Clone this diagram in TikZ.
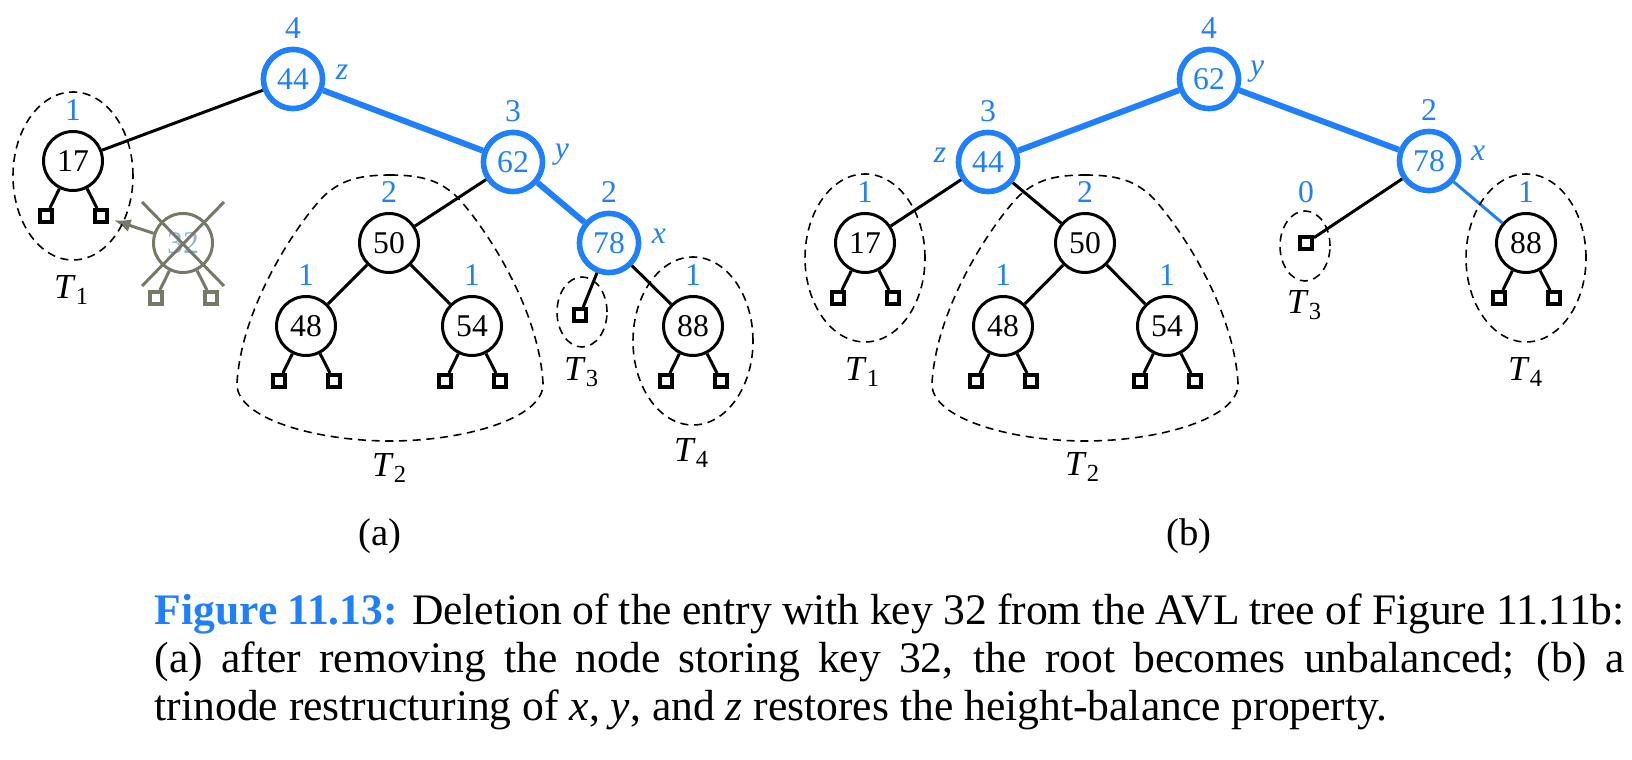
\documentclass[tikz,border=0pt]{standalone}
\usepackage{fontspec}
\setmainfont{Liberation Serif}
\usepackage{xcolor}
\usepackage{tikz}
\usetikzlibrary{arrows.meta, calc}

\definecolor{avlblue}{RGB}{30,128,255}
\definecolor{gonegray}{RGB}{120,120,104}
\definecolor{gonetext}{RGB}{150,178,228}

\begin{document}
\begin{tikzpicture}[
    key/.style={
        circle, draw,
        line width=0.85pt,
        minimum size=0.59cm,
        inner sep=0pt,
        font=\fontsize{9}{9}\selectfont
    },
    hot/.style={key, draw=avlblue, line width=1.6pt, text=avlblue},
    gone/.style={key, draw=gonegray, text=gonetext},
    ext/.style={
        rectangle, draw,
        line width=1.1pt,
        minimum size=0.12cm,
        inner sep=0pt
    },
    hnum/.style={font=\fontsize{9}{9}\selectfont, text=avlblue, inner sep=0pt},
    tag/.style={font=\fontsize{9}{9}\selectfont\itshape, text=avlblue, inner sep=0pt},
    sub/.style={font=\fontsize{10}{10}\selectfont, inner sep=0pt},
    edge/.style={line width=0.85pt},
    hotedge/.style={line width=1.7pt, draw=avlblue},
    grp/.style={line width=0.45pt, dash pattern=on 2.3pt off 1.6pt}
]
\useasboundingbox (0,0) rectangle (16.32,-7.60);

% ---------- (a) after removing 32 ----------
\node[hot] (a44) at (2.93,-0.79) {44};
\node[key] (a17) at (0.73,-1.61) {17};
\node[hot] (a62) at (5.13,-1.62) {62};
\node[key] (a50) at (3.89,-2.43) {50};
\node[hot] (a78) at (6.09,-2.43) {78};
\node[key] (a48) at (3.06,-3.26) {48};
\node[key] (a54) at (4.72,-3.26) {54};
\node[key] (a88) at (6.93,-3.26) {88};
\node[ext] (aT3) at (5.80,-3.15) {};

\draw[edge] (a44) -- (a17);
\draw[hotedge] (a44) -- (a62);
\draw[edge] (a62) -- (a50);
\draw[hotedge] (a62) -- (a78);
\draw[edge] (a50) -- (a48);
\draw[edge] (a50) -- (a54);
\draw[edge] (a78) -- (aT3);
\draw[edge] (a78) -- (a88);

% removed node
\node[gone] (a32) at (1.83,-2.43) {32};
\node[ext, draw=gonegray] (a32l) at (1.56,-2.98) {};
\node[ext, draw=gonegray] (a32r) at (2.11,-2.98) {};
\draw[edge, gonegray] (a32) -- (a32l);
\draw[edge, gonegray] (a32) -- (a32r);
\draw[edge, gonegray] ([shift={(-0.41,0.41)}]a32.center) -- ([shift={(0.41,-0.43)}]a32.center);
\draw[edge, gonegray] ([shift={(0.41,0.41)}]a32.center) -- ([shift={(-0.41,-0.43)}]a32.center);

% ---------- (b) after restructuring ----------
\node[hot] (b62) at (12.09,-0.79) {62};
\node[hot] (b44) at (9.88,-1.62) {44};
\node[hot] (b78) at (14.29,-1.61) {78};
\node[key] (b17) at (8.65,-2.43) {17};
\node[key] (b50) at (10.85,-2.43) {50};
\node[key] (b48) at (10.03,-3.26) {48};
\node[key] (b54) at (11.67,-3.26) {54};
\node[ext] (bT3) at (13.06,-2.43) {};
\node[key] (b88) at (15.26,-2.43) {88};

\draw[hotedge] (b62) -- (b44);
\draw[hotedge] (b62) -- (b78);
\draw[edge] (b44) -- (b17);
\draw[edge] (b44) -- (b50);
\draw[edge] (b50) -- (b48);
\draw[edge] (b50) -- (b54);
\draw[edge] (b78) -- (bT3);
\draw[edge, avlblue] (b78) -- (b88);

% external leaves
\foreach \p in {a17,a48,a54,a88,b17,b48,b54,b88} {
    \node[ext] (\p l) at ([shift={(-0.27,-0.55)}]\p.center) {};
    \node[ext] (\p r) at ([shift={(0.28,-0.55)}]\p.center) {};
    \draw[edge] (\p) -- (\p l);
    \draw[edge] (\p) -- (\p r);
}

\draw[edge, gonegray, -{Latex[length=0.17cm,width=0.13cm]}, shorten >=0.05cm] (a32) -- (a17r);

% heights
\foreach \n/\h in {a44/4,a17/1,a62/3,a50/2,a78/2,a48/1,a54/1,a88/1,
                   b62/4,b44/3,b78/2,b17/1,b50/2,b48/1,b54/1,bT3/0,b88/1} {
    \node[hnum] at ([yshift=0.51cm]\n.center) {\h};
}

% x, y, z
\node[tag] at ([shift={(0.49,0.07)}]a44.center) {z};
\node[tag] at ([shift={(0.49,0.07)}]a62.center) {y};
\node[tag] at ([shift={(0.50,0.07)}]a78.center) {x};
\node[tag] at ([shift={(0.48,0.07)}]b62.center) {y};
\node[tag] at ([shift={(-0.48,0.07)}]b44.center) {z};
\node[tag] at ([shift={(0.49,0.08)}]b78.center) {x};

% subtrees
\draw[grp] (0.73,-1.76) ellipse (0.60 and 0.84);
\draw[grp] (5.82,-3.12) ellipse (0.25 and 0.35);
\draw[grp] (6.93,-3.41) ellipse (0.60 and 0.84);
\draw[grp] (8.65,-2.58) ellipse (0.60 and 0.84);
\draw[grp] (13.05,-2.46) ellipse (0.25 and 0.35);
\draw[grp] (15.26,-2.58) ellipse (0.60 and 0.84);

% T2 outlines
\foreach \c in {3.90,10.85} {
    \draw[grp, xshift=\c cm] (0,-1.75)
        .. controls (0.35,-1.75) and (0.5,-1.82) .. (0.65,-1.95)
        .. controls (0.85,-2.14) and (1.48,-3.0) .. (1.53,-3.83)
        .. controls (1.55,-4.18) and (0.75,-4.41) .. (0,-4.41)
        .. controls (-0.75,-4.41) and (-1.55,-4.18) .. (-1.53,-3.83)
        .. controls (-1.48,-3.0) and (-0.85,-2.14) .. (-0.65,-1.95)
        .. controls (-0.5,-1.82) and (-0.35,-1.75) .. cycle;
}

\node[sub] (aT1) at (0.72,-2.90) {\textit{T}\textsubscript{1}};
\node[sub] (aT2) at (3.90,-4.68) {\textit{T}\textsubscript{2}};
\node[sub] (aT3l) at (5.82,-3.72) {\textit{T}\textsubscript{3}};
\node[sub] (aT4) at (6.92,-4.53) {\textit{T}\textsubscript{4}};
\node[sub] (bT1) at (8.63,-3.72) {\textit{T}\textsubscript{1}};
\node[sub] (bT2) at (10.83,-4.67) {\textit{T}\textsubscript{2}};
\node[sub] (bT3l) at (13.05,-3.05) {\textit{T}\textsubscript{3}};
\node[sub] (bT4) at (15.26,-3.72) {\textit{T}\textsubscript{4}};

% panel names
\node[font=\fontsize{11}{11}\selectfont] (pa) at (3.80,-5.36) {(a)};
\node[font=\fontsize{11}{11}\selectfont] (pb) at (11.89,-5.36) {(b)};

% caption
\node[anchor=north west, inner sep=0pt, text width=14.70cm, align=justify,
      font=\fontsize{12.4}{13.66}\selectfont] (cap) at (1.54,-5.93)
    {\textcolor{avlblue}{\textbf{Figure 11.13:}} Deletion of the entry with key 32 from the AVL tree of Figure 11.11b:\linebreak
     (a) after removing the node storing key 32, the root becomes unbalanced; (b) a\linebreak
     trinode restructuring of \textit{x}, \textit{y}, and \textit{z} restores the height-balance property.};
\end{tikzpicture}
\end{document}
